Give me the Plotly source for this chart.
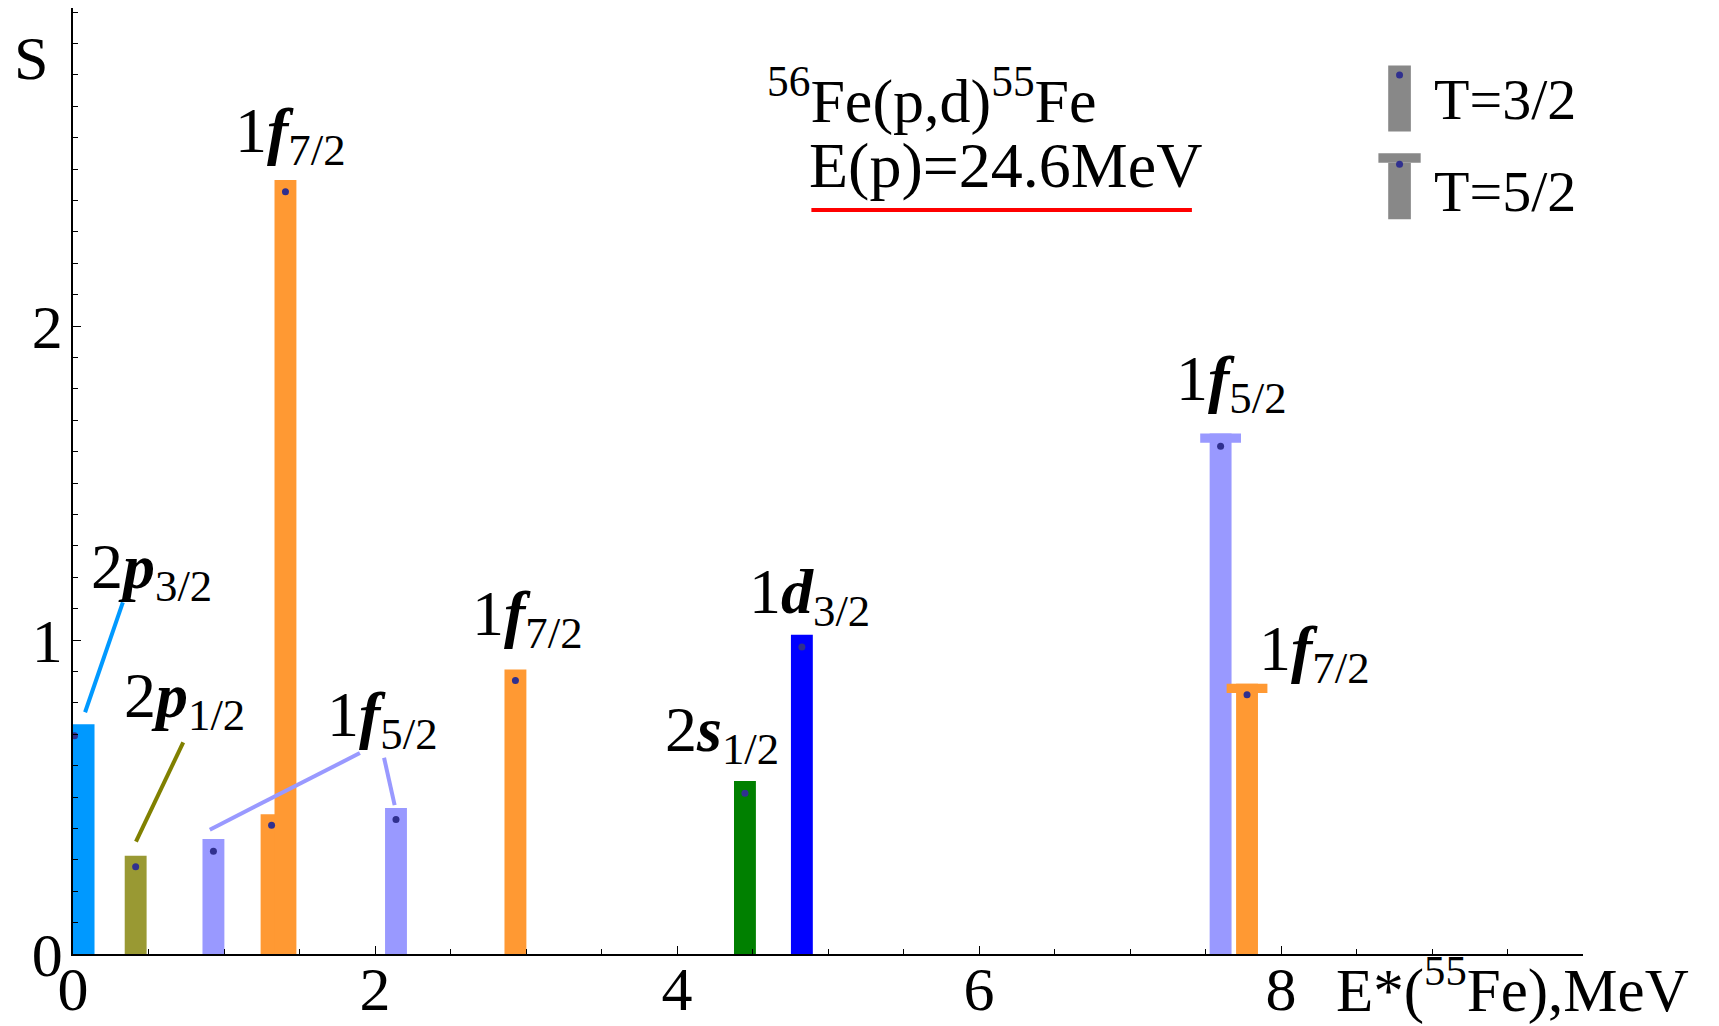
import plotly.graph_objects as go

# ---------------- data ----------------
energy = [0.07, 0.415, 0.93, 1.315, 1.407, 2.139, 2.93, 4.45, 4.827, 7.60, 7.775]
strength = [0.732, 0.313, 0.366, 0.445, 2.465, 0.465, 0.906, 0.551, 1.017, 1.658, 0.861]
dot_energy = [0.01, 0.415, 0.93, 1.315, 1.407, 2.139, 2.93, 4.45, 4.827, 7.60, 7.775]
dot_strength = [0.695, 0.278, 0.327, 0.41, 2.428, 0.428, 0.871, 0.512, 0.978, 1.617, 0.826]
isospin = ["3/2"] * 9 + ["5/2"] * 2
state_color = ["#0099ff", "#999933", "#9999ff", "#ff9933", "#ff9933", "#9999ff",
               "#ff9933", "#008000", "#0000ff", "#9999ff", "#ff9933"]

label_text = ["2<b><i>p</i></b><sub>3/2</sub>", "2<b><i>p</i></b><sub>1/2</sub>",
              "1<b><i>f</i></b><sub>5/2</sub>", "1<b><i>f</i></b><sub>7/2</sub>",
              "1<b><i>f</i></b><sub>7/2</sub>", "2<b><i>s</i></b><sub>1/2</sub>",
              "1<b><i>d</i></b><sub>3/2</sub>", "1<b><i>f</i></b><sub>5/2</sub>",
              "1<b><i>f</i></b><sub>7/2</sub>"]
label_x = [0.52, 0.74, 2.05, 1.44, 3.01, 4.30, 4.88, 7.67, 8.22]
label_y = [1.22, 0.81, 0.75, 2.61, 1.07, 0.70, 1.14, 1.82, 0.96]

leader_x = [[0.08, 0.33], [0.417, 0.73], [0.906, 1.90], [2.06, 2.13]]
leader_y = [[0.77, 1.12], [0.358, 0.674], [0.396, 0.64], [0.625, 0.474]]
leader_color = ["#0099ff", "#808000", "#9999ff", "#9999ff"]

x_ticks = [0, 2, 4, 6, 8]
y_ticks = [0, 1, 2]

FONT = "Liberation Serif"
cap_h = 0.03

fig = go.Figure()

# bars
fig.add_trace(go.Bar(x=energy, y=strength, width=0.145,
                     marker=dict(color=state_color, line=dict(width=0)),
                     showlegend=False, hoverinfo="skip"))

# caps for T=5/2 states
cx = [e for e, t in zip(energy, isospin) if t == "5/2"]
cy = [s for s, t in zip(strength, isospin) if t == "5/2"]
cc = [c for c, t in zip(state_color, isospin) if t == "5/2"]
fig.add_trace(go.Bar(x=cx, y=[cap_h] * len(cx), base=[v - cap_h for v in cy], width=0.27,
                     marker=dict(color=cc, line=dict(width=0)),
                     showlegend=False, hoverinfo="skip"))

# leader lines
for lx, ly, lc in zip(leader_x, leader_y, leader_color):
    fig.add_trace(go.Scatter(x=lx, y=ly, mode="lines", line=dict(color=lc, width=4),
                             showlegend=False, hoverinfo="skip", cliponaxis=False))

# dots
fig.add_trace(go.Scatter(x=dot_energy, y=dot_strength, mode="markers",
                         marker=dict(color="#30308f", size=7, symbol="circle"),
                         showlegend=False, hoverinfo="skip", cliponaxis=False))

# legend dots
fig.add_trace(go.Scatter(x=[8.785, 8.785], y=[2.80, 2.515], mode="markers",
                         marker=dict(color="#30308f", size=7), showlegend=False, hoverinfo="skip"))

annotations = []
for t, x, y in zip(label_text, label_x, label_y):
    annotations.append(dict(x=x, y=y, text=t, showarrow=False, xanchor="center",
                            yanchor="middle", font=dict(family=FONT, size=64, color="black")))

annotations += [
    dict(x=-0.028, y=0.947, xref="paper", yref="paper", text="S", showarrow=False,
         xanchor="center", yanchor="middle", font=dict(family=FONT, size=62, color="black")),
    dict(x=0.835, y=-0.034, xref="paper", yref="paper", text="E*(<sup>55</sup>Fe),MeV",
         showarrow=False, xanchor="left", yanchor="middle",
         font=dict(family=FONT, size=61, color="black")),
    dict(x=4.58, y=2.73, text="<sup>56</sup>Fe(p,d)<sup>55</sup>Fe", showarrow=False, xanchor="left",
         yanchor="middle", font=dict(family=FONT, size=62, color="black")),
    dict(x=4.86, y=2.51, text="E(p)=24.6MeV", showarrow=False, xanchor="left",
         yanchor="middle", font=dict(family=FONT, size=64, color="black")),
    dict(x=9.0, y=2.72, text="T=3/2", showarrow=False, xanchor="left",
         yanchor="middle", font=dict(family=FONT, size=58, color="black")),
    dict(x=9.0, y=2.43, text="T=5/2", showarrow=False, xanchor="left",
         yanchor="middle", font=dict(family=FONT, size=58, color="black")),
]

shapes = [
    # red underline
    dict(type="line", x0=4.89, x1=7.41, y0=2.37, y1=2.37, line=dict(color="#ff0000", width=4)),
    # legend symbol T=3/2
    dict(type="rect", x0=8.71, x1=8.86, y0=2.62, y1=2.83, fillcolor="#888888",
         line=dict(width=0), layer="below"),
    # legend symbol T=5/2
    dict(type="rect", x0=8.71, x1=8.86, y0=2.34, y1=2.52, fillcolor="#888888",
         line=dict(width=0), layer="below"),
    dict(type="rect", x0=8.645, x1=8.925, y0=2.52, y1=2.55, fillcolor="#888888",
         line=dict(width=0), layer="below"),
]

fig.update_layout(
    width=1719, height=1026,
    margin=dict(l=73, r=136, t=8, b=72),
    paper_bgcolor="white", plot_bgcolor="white",
    barmode="overlay",
    annotations=annotations, shapes=shapes,
    font=dict(family=FONT, color="black"),
)
fig.update_xaxes(range=[0, 10], tickvals=x_ticks, ticktext=[str(v) for v in x_ticks],
                 automargin=False, ticklabelstandoff=-20,
                 showline=True, linecolor="black", linewidth=1.5, mirror=False,
                 ticks="inside", ticklen=8, tickcolor="black", showgrid=False, zeroline=False,
                 minor=dict(dtick=0.5, ticks="inside", ticklen=5, tickcolor="black", showgrid=False),
                 tickfont=dict(family=FONT, size=62, color="black"))
fig.update_yaxes(range=[0, 3.013], tickvals=y_ticks, ticktext=[str(v) for v in y_ticks],
                 automargin=False, ticklabelstandoff=-4,
                 showline=True, linecolor="black", linewidth=1.5,
                 ticks="inside", ticklen=8, tickcolor="black", showgrid=False, zeroline=False,
                 minor=dict(dtick=0.1, ticks="inside", ticklen=5, tickcolor="black", showgrid=False),
                 tickfont=dict(family=FONT, size=62, color="black"))

fig.write_html("out.html")
